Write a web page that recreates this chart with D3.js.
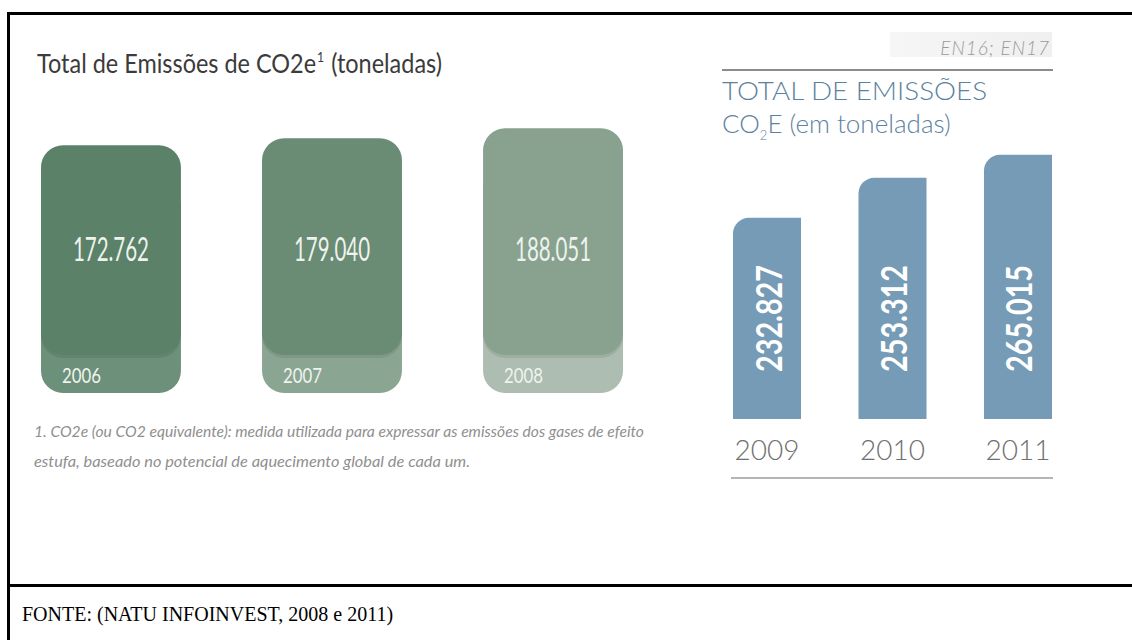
<!DOCTYPE html>
<html>
<head>
<meta charset="utf-8">
<script src="https://cdn.jsdelivr.net/npm/d3@7"></script>
<style>
  html, body { margin: 0; padding: 0; background: #fff; }
  svg { display: block; }
</style>
</head>
<body>
<script>
// left panel (2006-2008)
var leftYears  = ["2006", "2007", "2008"];
var leftValues = [172762, 179040, 188051];
var leftTop    = ["#5b8169", "#6a8b74", "#88a28f"];
var leftBase   = ["#6c9079", "#8ba593", "#adbdb1"];

// right panel (2009-2011)
var rightYears  = ["2009", "2010", "2011"];
var rightValues = [232827, 253312, 265015];

var footLines = [
  "1. CO2e (ou CO2 equivalente): medida utilizada para expressar as emissões dos gases de efeito",
  "estufa, baseado no potencial de aquecimento global de cada um."
];

var W = 1132, H = 640;
var ptbr = d3.formatLocale({decimal: ",", thousands: ".", grouping: [3], currency: ["R$", ""]});
var fmt = ptbr.format(",d");

var svg = d3.select("body").append("svg").attr("width", W).attr("height", H);

// frame
svg.append("line").attr("x1", 7).attr("x2", W).attr("y1", 13.5).attr("y2", 13.5)
  .attr("stroke", "#000").attr("stroke-width", 3);
svg.append("line").attr("x1", 8.5).attr("x2", 8.5).attr("y1", 12).attr("y2", H)
  .attr("stroke", "#000").attr("stroke-width", 3);
svg.append("line").attr("x1", 7).attr("x2", W).attr("y1", 585.5).attr("y2", 585.5)
  .attr("stroke", "#000").attr("stroke-width", 3);

svg.append("text").attr("x", 22).attr("y", 621)
  .attr("font-family", "'Liberation Serif', 'Times New Roman', serif")
  .attr("font-size", 20).attr("fill", "#000")
  .text("FONTE: (NATU INFOINVEST, 2008 e 2011)");

// ---------- left chart ----------
var L = svg.append("g");

// title: pieces laid side by side, then squeezed to the reference width
var tg = L.append("g");
var tFont = "Lato, 'Open Sans', sans-serif";
var t1 = tg.append("text").attr("x", 0).attr("y", 0).attr("font-family", tFont)
  .attr("font-size", 27).attr("fill", "#3b3b3b").text("Total de Emissões de CO2e");
var w1 = t1.node().getComputedTextLength();
var t2 = tg.append("text").attr("x", w1 + 1).attr("y", -11).attr("font-family", tFont)
  .attr("font-size", 14).attr("fill", "#3b3b3b").text("1");
var w2 = t2.node().getComputedTextLength();
var gap = 8;
var t3 = tg.append("text").attr("x", w1 + w2 + 1 + gap).attr("y", 0).attr("font-family", tFont)
  .attr("font-size", 27).attr("fill", "#3b3b3b").text("(toneladas)");
var total = w1 + w2 + 1 + gap + t3.node().getComputedTextLength();
tg.attr("transform", "translate(37,73) scale(" + (405 / total) + ",1)");

var baseBottom = 393, slabBottom = 355, r = 22;
var xL = d3.scaleBand().domain(leftYears).range([41, 623]).paddingInner(0.367).paddingOuter(0);
var yL = d3.scaleLinear().domain([0, 200000]).range([337, 115]);

function roundRect(x, y0, w, y1, rad) {
  var p = d3.path();
  p.moveTo(x + rad, y0);
  p.lineTo(x + w - rad, y0);
  p.arcTo(x + w, y0, x + w, y0 + rad, rad);
  p.lineTo(x + w, y1 - rad);
  p.arcTo(x + w, y1, x + w - rad, y1, rad);
  p.lineTo(x + rad, y1);
  p.arcTo(x, y1, x, y1 - rad, rad);
  p.lineTo(x, y0 + rad);
  p.arcTo(x, y0, x + rad, y0, rad);
  p.closePath();
  return p.toString();
}

var lb = L.selectAll("g.bar").data(leftValues).enter().append("g").attr("class", "bar");
// base
lb.append("path")
  .attr("d", function (d, i) { return roundRect(xL(leftYears[i]), yL(d) + 40, xL.bandwidth(), baseBottom, r); })
  .attr("fill", function (d, i) { return leftBase[i]; });
// soft shadow
lb.append("path")
  .attr("d", function (d, i) { return roundRect(xL(leftYears[i]), yL(d) + 2, xL.bandwidth(), slabBottom + 3, r); })
  .attr("fill", "#000").attr("opacity", 0.08);
// slab
lb.append("path")
  .attr("d", function (d, i) { return roundRect(xL(leftYears[i]), yL(d), xL.bandwidth(), slabBottom, r); })
  .attr("fill", function (d, i) { return leftTop[i]; });
lb.append("text")
  .attr("x", function (d, i) { return xL(leftYears[i]) + xL.bandwidth() / 2; })
  .attr("y", 261).attr("text-anchor", "middle")
  .attr("font-family", "Lato, sans-serif").attr("font-size", 33)
  .attr("fill", "#eef3ee")
  .attr("textLength", 76).attr("lengthAdjust", "spacingAndGlyphs")
  .text(function (d) { return fmt(d); });
lb.append("text")
  .attr("x", function (d, i) { return xL(leftYears[i]) + 21; })
  .attr("y", 383)
  .attr("font-family", "Lato, sans-serif").attr("font-size", 22)
  .attr("fill", "#eef3ee")
  .attr("textLength", 39).attr("lengthAdjust", "spacingAndGlyphs")
  .text(function (d, i) { return leftYears[i]; });

L.selectAll("text.foot").data(footLines).enter().append("text").attr("class", "foot")
  .attr("x", 34).attr("y", function (d, i) { return 437 + i * 30; })
  .attr("font-family", "Lato, sans-serif").attr("font-style", "italic").attr("font-size", 15)
  .attr("fill", "#8f8f8f")
  .attr("textLength", function (d, i) { return i === 0 ? 610 : 436; })
  .attr("lengthAdjust", "spacingAndGlyphs")
  .text(function (d) { return d; });

// ---------- right chart ----------
var R = svg.append("g");
var grad = svg.append("defs").append("linearGradient").attr("id", "tag");
grad.append("stop").attr("offset", "0%").attr("stop-color", "#f6f6f6");
grad.append("stop").attr("offset", "100%").attr("stop-color", "#efefef");
R.append("rect").attr("x", 890).attr("y", 32).attr("width", 162).attr("height", 25).attr("fill", "url(#tag)");
R.append("text").attr("x", 1050).attr("y", 55).attr("text-anchor", "end")
  .attr("font-family", "Lato, sans-serif").attr("font-style", "italic").attr("font-weight", 300)
  .attr("font-size", 19).attr("fill", "#9a9a9a").attr("letter-spacing", 1)
  .text("EN16; EN17");
R.append("line").attr("x1", 722).attr("x2", 1053).attr("y1", 70).attr("y2", 70)
  .attr("stroke", "#8c8c8c").attr("stroke-width", 2);

var blue = "#5b82a0";
R.append("text").attr("x", 722).attr("y", 100)
  .attr("font-family", "Lato, sans-serif").attr("font-weight", 300).attr("font-size", 26)
  .attr("fill", blue).attr("textLength", 265).attr("lengthAdjust", "spacingAndGlyphs")
  .text("TOTAL DE EMISSÕES");
var sub = R.append("text").attr("x", 722).attr("y", 133)
  .attr("font-family", "Lato, sans-serif").attr("font-weight", 300).attr("font-size", 26)
  .attr("fill", blue);
sub.append("tspan").text("CO");
sub.append("tspan").attr("font-size", 13).attr("dy", 7).text("2");
sub.append("tspan").attr("dy", -7).text("E (em toneladas)");

var xR = d3.scaleBand().domain(rightYears).range([733, 1052]).paddingInner(0.458).paddingOuter(0);
var yR = d3.scaleLinear().domain([130000, 270000]).range([419, 145]);
var rr = 16;

var rb = R.selectAll("g.rbar").data(rightValues).enter().append("g").attr("class", "rbar");
rb.append("path")
  .attr("d", function (d, i) {
    var x = xR(rightYears[i]), w = xR.bandwidth(), t = yR(d), b = yR(130000);
    var p = d3.path();
    p.moveTo(x, b);
    p.lineTo(x, t + rr);
    p.arcTo(x, t, x + rr, t, rr);
    p.lineTo(x + w, t);
    p.lineTo(x + w, b);
    p.closePath();
    return p.toString();
  })
  .attr("fill", "#769bb6");
rb.append("text")
  .attr("transform", function (d, i) {
    return "translate(" + (xR(rightYears[i]) + xR.bandwidth() / 2) + ",372) rotate(-90)";
  })
  .attr("dominant-baseline", "central")
  .attr("font-family", "Lato, sans-serif").attr("font-weight", 700).attr("font-size", 37)
  .attr("fill", "#fff")
  .attr("textLength", 107).attr("lengthAdjust", "spacingAndGlyphs")
  .text(function (d) { return fmt(d); });
rb.append("text")
  .attr("x", function (d, i) { return xR(rightYears[i]) + xR.bandwidth() / 2; })
  .attr("y", 460).attr("text-anchor", "middle")
  .attr("font-family", "Lato, sans-serif").attr("font-weight", 300).attr("font-size", 28)
  .attr("fill", "#707070").attr("textLength", 65).attr("lengthAdjust", "spacingAndGlyphs")
  .text(function (d, i) { return rightYears[i]; });

R.append("line").attr("x1", 731).attr("x2", 1053).attr("y1", 478).attr("y2", 478)
  .attr("stroke", "#b4b4b4").attr("stroke-width", 2);
</script>
</body>
</html>
